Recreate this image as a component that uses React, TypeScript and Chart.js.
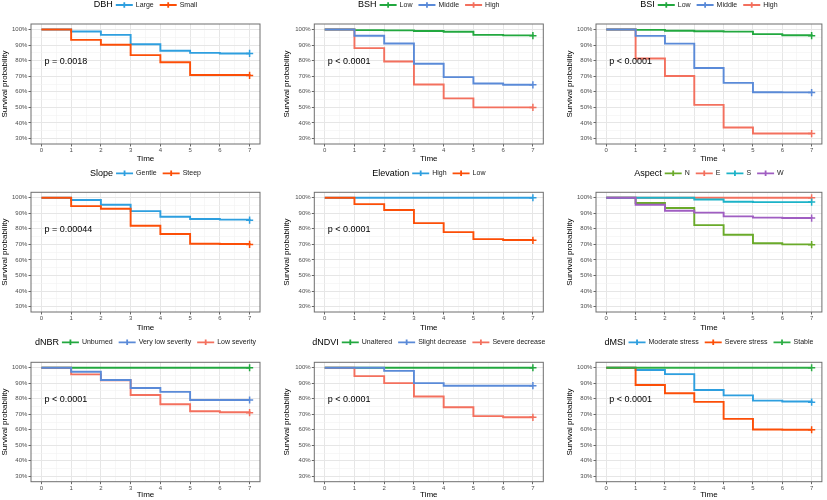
import React, { useEffect, useRef } from "react";
import { Chart, registerables } from "chart.js";
Chart.register(...registerables);

const FONT = "'Liberation Sans', Arial, Helvetica, sans-serif";

// ---------- data ----------
const times = [0, 1, 2, 3, 4, 5, 6, 7];
const yGridValues = [30, 35, 40, 45, 50, 55, 60, 65, 70, 75, 80, 85, 90, 95, 100];
const xGridValues = [0, 0.5, 1, 1.5, 2, 2.5, 3, 3.5, 4, 4.5, 5, 5.5, 6, 6.5, 7];

const dbhLarge = [100, 98.7, 96.5, 90.5, 86.3, 85.0, 84.6, 84.6];
const dbhSmall = [100, 93.3, 90.2, 83.5, 79.0, 70.8, 70.8, 70.5];

const bshLow = [100, 99.6, 99.4, 99.0, 98.5, 96.5, 96.2, 96.0];
const bshMiddle = [100, 96.0, 91.0, 78.0, 69.4, 65.3, 64.5, 64.5];
const bshHigh = [100, 88.0, 79.4, 64.7, 55.8, 50.0, 50.0, 50.0];

const bsiLow = [100, 99.7, 99.2, 98.8, 98.6, 97.0, 96.3, 96.0];
const bsiMiddle = [100, 95.9, 90.9, 75.3, 65.7, 59.7, 59.6, 59.5];
const bsiHigh = [100, 81.4, 70.1, 51.6, 37.1, 33.2, 33.2, 33.2];

const slopeGentle = [100, 98.5, 95.5, 91.4, 87.8, 86.3, 85.9, 85.6];
const slopeSteep = [100, 94.6, 92.9, 82.0, 76.7, 70.4, 70.2, 70.0];

const elevHigh = [100, 100, 100, 100, 100, 100, 100, 100];
const elevLow = [100, 95.9, 92.1, 83.7, 77.9, 73.4, 72.8, 72.6];

const aspectN = [100, 96.6, 93.4, 82.4, 76.2, 70.7, 70.0, 69.8];
const aspectE = [100, 100, 100, 100, 100, 100, 100, 100];
const aspectS = [100, 100, 100, 98.9, 97.4, 97.2, 97.2, 97.2];
const aspectW = [100, 95.5, 91.6, 90.4, 88.0, 87.2, 87.0, 86.9];

const dnbrUnburned = [100, 100, 100, 100, 100, 100, 100, 100];
const dnbrVeryLow = [100, 97.4, 92.1, 86.9, 84.4, 79.2, 79.2, 79.2];
const dnbrLow = [100, 95.7, 91.9, 82.4, 76.4, 71.9, 71.3, 71.0];

const dndviUnaltered = [100, 100, 100, 100, 100, 100, 100, 100];
const dndviSlight = [100, 100, 98.0, 90.1, 88.4, 88.4, 88.4, 88.4];
const dndviSevere = [100, 94.6, 90.1, 81.4, 74.5, 68.8, 68.1, 68.0];

const dmsiModerate = [100, 98.5, 95.9, 85.6, 82.2, 78.8, 78.2, 77.8];
const dmsiSevere = [100, 88.9, 83.5, 78.0, 67.0, 60.2, 60.0, 60.0];
const dmsiStable = [100, 100, 100, 100, 100, 100, 100, 100];

// ---------- colours ----------
const BLUE = "#2E9FDF";
const ORANGE = "#FC4E07";
const GREEN = "#2DAE45";
const G2 = "#22A83F";
const B2 = "#5A8AD8";
const R2 = "#F3705E";
const ASP_N = "#6AAA2A";
const ASP_E = "#F3705E";
const ASP_S = "#1CB3C8";
const ASP_W = "#A05EC2";

type Series = { label: string; values: number[]; color: string };
type Panel = { title: string; row: number; col: number; pText: string; series: Series[]; top: number };

const panels: Panel[] = [
  { title: "DBH", row: 0, col: 0, pText: "p = 0.0018", top: 1,
    series: [{ label: "Large", values: dbhLarge, color: BLUE }, { label: "Small", values: dbhSmall, color: ORANGE }] },
  { title: "BSH", row: 0, col: 1, pText: "p < 0.0001", top: 1,
    series: [{ label: "Low", values: bshLow, color: G2 }, { label: "Middle", values: bshMiddle, color: B2 }, { label: "High", values: bshHigh, color: R2 }] },
  { title: "BSI", row: 0, col: 2, pText: "p < 0.0001", top: 1,
    series: [{ label: "Low", values: bsiLow, color: G2 }, { label: "Middle", values: bsiMiddle, color: B2 }, { label: "High", values: bsiHigh, color: R2 }] },
  { title: "Slope", row: 1, col: 0, pText: "p = 0.00044", top: 1,
    series: [{ label: "Gentle", values: slopeGentle, color: BLUE }, { label: "Steep", values: slopeSteep, color: ORANGE }] },
  { title: "Elevation", row: 1, col: 1, pText: "p < 0.0001", top: 1,
    series: [{ label: "High", values: elevHigh, color: BLUE }, { label: "Low", values: elevLow, color: ORANGE }] },
  { title: "Aspect", row: 1, col: 2, pText: "", top: 3,
    series: [{ label: "N", values: aspectN, color: ASP_N }, { label: "E", values: aspectE, color: ASP_E }, { label: "S", values: aspectS, color: ASP_S }, { label: "W", values: aspectW, color: ASP_W }] },
  { title: "dNBR", row: 2, col: 0, pText: "p < 0.0001", top: 1,
    series: [{ label: "Unburned", values: dnbrUnburned, color: G2 }, { label: "Very low severity", values: dnbrVeryLow, color: B2 }, { label: "Low severity", values: dnbrLow, color: R2 }] },
  { title: "dNDVI", row: 2, col: 1, pText: "p < 0.0001", top: 1,
    series: [{ label: "Unaltered", values: dndviUnaltered, color: G2 }, { label: "Slight decrease", values: dndviSlight, color: B2 }, { label: "Severe decrease", values: dndviSevere, color: R2 }] },
  { title: "dMSI", row: 2, col: 2, pText: "p < 0.0001", top: 2,
    series: [{ label: "Moderate stress", values: dmsiModerate, color: BLUE }, { label: "Severe stress", values: dmsiSevere, color: ORANGE }, { label: "Stable", values: dmsiStable, color: GREEN }] },
];

// ---------- layout ----------
const ROWS = [
  { top: 0, height: 166, boxTop: 24, boxBottom: 144, timeY: 158.3, legendY: 5 },
  { top: 165, height: 169, boxTop: 192.3, boxBottom: 312, timeY: 327.7, legendY: 173.3 },
  { top: 330, height: 170, boxTop: 362.3, boxBottom: 481.7, timeY: 495, legendY: 342.3 },
];
const COLS = [
  { left: 0, width: 275, boxLeft: 31, boxRight: 260, yTitleX: 5 },
  { left: 275, width: 275, boxLeft: 314.3, boxRight: 543.3, yTitleX: 287 },
  { left: 550, width: 277, boxLeft: 596, boxRight: 824, yTitleX: 570 },
];

const MAJOR_GRID = "#E6E6E6";
const MINOR_GRID = "#F1F1F1";
const TICK_COL = "#666666";

function SurvPanel({ panel }: { panel: Panel }) {
  const ref = useRef<HTMLCanvasElement>(null);
  const row = ROWS[panel.row];
  const col = COLS[panel.col];

  useEffect(() => {
    const canvas = ref.current!;
    const yW = col.boxLeft - col.left;
    const xH = row.top + row.height - row.boxBottom;
    const last = times.length - 1;

    const deco = {
      id: "deco",
      afterDatasetsDraw(chart: any) {
        const { ctx, chartArea: a } = chart;
        ctx.save();
        ctx.strokeStyle = "#6E6E6E";
        ctx.lineWidth = 1;
        ctx.strokeRect(a.left, a.top, a.right - a.left, a.bottom - a.top);
        ctx.restore();
      },
      afterDraw(chart: any) {
        const { ctx, chartArea: a, scales } = chart;
        ctx.save();
        // p value
        if (panel.pText) {
          ctx.font = `9px ${FONT}`;
          ctx.fillStyle = "#000";
          ctx.textAlign = "left";
          ctx.textBaseline = "middle";
          ctx.fillText(panel.pText, scales.x.getPixelForValue(0.1), scales.y.getPixelForValue(79.5));
        }
        // legend
        const titleFont = `9px ${FONT}`;
        const labFont = `7px ${FONT}`;
        const keyW = 17;
        ctx.font = titleFont;
        const tW = ctx.measureText(panel.title).width;
        ctx.font = labFont;
        const lW = panel.series.map((s) => ctx.measureText(s.label).width);
        let total = tW + 3;
        lW.forEach((w, i) => { total += keyW + 3 + w + (i < lW.length - 1 ? 6 : 0); });
        let x = (a.left + a.right) / 2 - total / 2;
        const y = row.legendY - row.top;
        ctx.textBaseline = "middle";
        ctx.textAlign = "left";
        ctx.font = titleFont;
        ctx.fillStyle = "#000";
        ctx.fillText(panel.title, x, y);
        x += tW + 3;
        ctx.font = labFont;
        panel.series.forEach((s, i) => {
          ctx.strokeStyle = s.color;
          ctx.lineWidth = 1.8;
          ctx.beginPath();
          ctx.moveTo(x, y);
          ctx.lineTo(x + keyW, y);
          ctx.moveTo(x + keyW / 2, y - 2.8);
          ctx.lineTo(x + keyW / 2, y + 2.8);
          ctx.stroke();
          x += keyW + 3;
          ctx.fillStyle = "#1A1A1A";
          ctx.fillText(s.label, x, y);
          x += lW[i] + 6;
        });
        ctx.restore();
      },
    };

    const n = panel.series.length;
    const chart = new Chart(canvas, {
      type: "line",
      data: {
        datasets: panel.series.map((s, i) => ({
          label: s.label,
          data: times.map((t, j) => ({ x: t, y: s.values[j] })),
          borderColor: s.color,
          backgroundColor: s.color,
          borderWidth: 1.9,
          stepped: "before",
          fill: false,
          pointStyle: "cross",
          pointRadius: times.map((_, j) => (j === last ? 3.6 : 0)),
          pointHoverRadius: 0,
          pointBorderWidth: 1.5,
          pointBorderColor: s.color,
          order: i === panel.top ? 0 : n - i,
        })),
      },
      options: {
        animation: false,
        responsive: false,
        maintainAspectRatio: false,
        events: [],
        layout: {
          padding: {
            left: 0,
            top: row.boxTop - row.top,
            right: col.left + col.width - col.boxRight,
            bottom: 0,
          },
        },
        plugins: { legend: { display: false }, tooltip: { enabled: false }, title: { display: false } },
        scales: {
          x: {
            type: "linear",
            min: -0.35,
            max: 7.35,
            afterBuildTicks: (s: any) => { s.ticks = xGridValues.map((v) => ({ value: v })); },
            afterFit: (s: any) => { s.height = xH; },
            border: { display: false },
            grid: {
              color: (c: any) => (Number.isInteger(c.tick?.value) ? MAJOR_GRID : MINOR_GRID),
              lineWidth: (c: any) => (Number.isInteger(c.tick?.value) ? 1 : 0.6),
              tickColor: (c: any) => (Number.isInteger(c.tick?.value) ? TICK_COL : "rgba(0,0,0,0)"),
              tickLength: 2.5,
              drawTicks: true,
            },
            ticks: {
              autoSkip: false,
              maxRotation: 0,
              padding: 0.5,
              color: "#4D4D4D",
              font: { size: 6, family: FONT },
              callback: (v: any) => (Number.isInteger(v) ? String(v) : ""),
            },
            title: {
              display: true,
              text: "Time",
              color: "#000",
              font: { size: 8, family: FONT },
              padding: { top: 0, bottom: row.top + row.height - row.timeY - 4.8 },
            },
          },
          y: {
            type: "linear",
            min: 26.5,
            max: 103.5,
            afterBuildTicks: (s: any) => { s.ticks = yGridValues.map((v) => ({ value: v })); },
            afterFit: (s: any) => { s.width = yW; },
            border: { display: false },
            grid: {
              color: (c: any) => (c.tick?.value % 10 === 0 ? MAJOR_GRID : MINOR_GRID),
              lineWidth: (c: any) => (c.tick?.value % 10 === 0 ? 1 : 0.6),
              tickColor: (c: any) => (c.tick?.value % 10 === 0 ? TICK_COL : "rgba(0,0,0,0)"),
              tickLength: 2.5,
              drawTicks: true,
            },
            ticks: {
              autoSkip: false,
              padding: 1.2,
              color: "#4D4D4D",
              font: { size: 6, family: FONT },
              callback: (v: any) => (v % 10 === 0 ? `${v}%` : ""),
            },
            title: {
              display: true,
              text: "Survival probability",
              color: "#000",
              font: { size: 8, family: FONT },
              padding: { top: col.yTitleX - col.left - 4.8, bottom: 0 },
            },
          },
        },
      } as any,
      plugins: [deco],
    } as any);
    return () => chart.destroy();
  }, []);

  return (
    <canvas
      ref={ref}
      width={col.width}
      height={row.height}
      style={{ position: "absolute", left: col.left, top: row.top, width: col.width, height: row.height }}
    />
  );
}

export default function App() {
  return (
    <div style={{ position: "absolute", left: 0, top: 0, width: 827, height: 500, background: "#fff", overflow: "hidden" }}>
      {panels.map((p) => (
        <SurvPanel key={p.title} panel={p} />
      ))}
    </div>
  );
}
